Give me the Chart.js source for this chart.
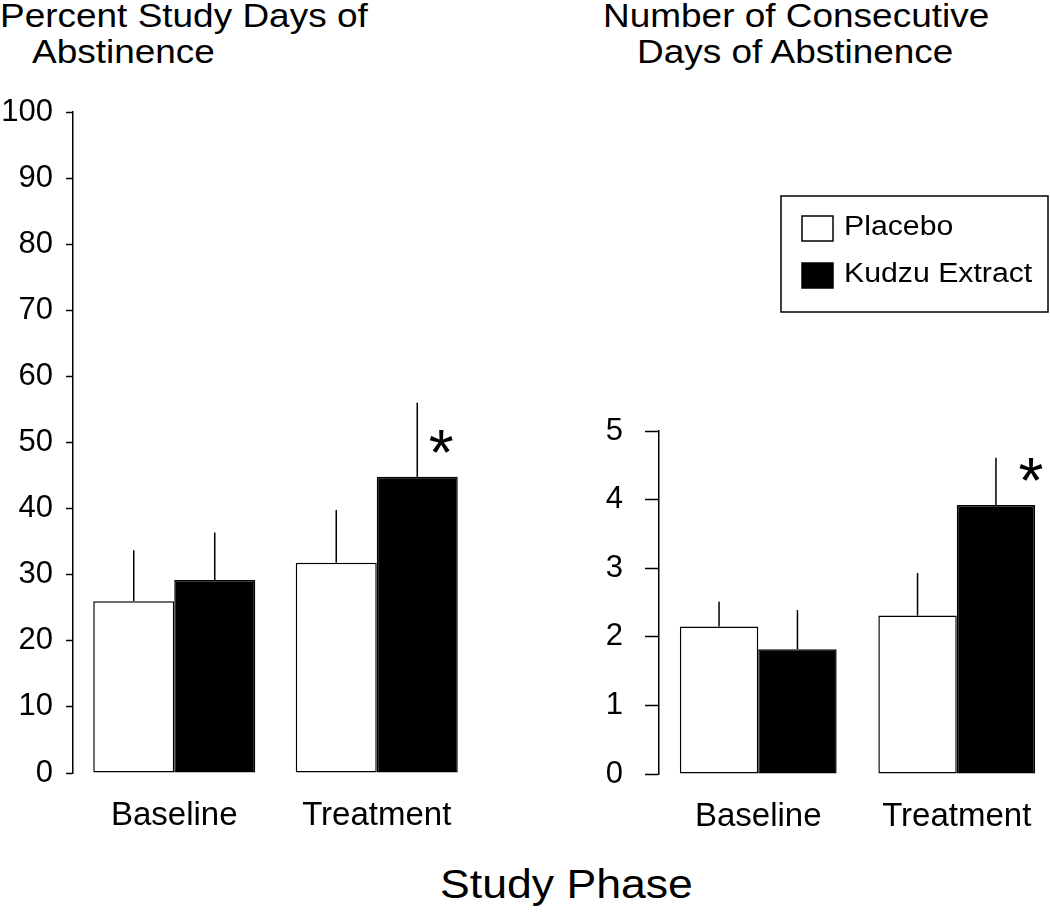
<!DOCTYPE html>
<html>
<head>
<meta charset="utf-8">
<script src="https://cdn.jsdelivr.net/npm/chart.js@4.4.1/dist/chart.umd.min.js"></script>
<style>
    html, body {
        margin: 0;
        padding: 0;
        background: #fff;
        width: 1050px;
        height: 916px;
        overflow: hidden;
        position: relative;
    }
    canvas {
        position: absolute;
        top: 0;
    }
    .txt {
        position: absolute;
        white-space: pre;
        color: #000;
        font-family: 'Liberation Sans', Arial, sans-serif;
        transform-origin: 0 0;
    }
    .title {
        font-size: 33px;
        line-height: 36px;
        transform: scaleX(1.12);
    }
</style>
</head>
<body>
<div class="txt title" style="left:0px;top:-2px">Percent Study Days of</div>
<div class="txt title" style="left:32px;top:34px">Abstinence</div>
<div class="txt title" style="left:603px;top:-2px">Number of Consecutive</div>
<div class="txt title" style="left:637px;top:34px">Days of Abstinence</div>
<div class="txt" style="left:440px;top:864px;font-size:40px;line-height:40px;transform:scaleX(1.115)">Study Phase</div>

<canvas id="pctChart" width="520" height="916" style="left:0px"></canvas>
<canvas id="daysChart" width="500" height="916" style="left:560px"></canvas>

<script>
document.addEventListener('DOMContentLoaded', function () {
    var phases = ['Baseline', 'Treatment'];
    var seriesNames = ['Placebo', 'Kudzu Extract'];

    // percent study days of abstinence (mean, upper SEM)
    var pctPlacebo = [26.0, 31.8];
    var pctKudzu = [29.2, 44.8];
    var pctPlaceboErr = [7.7, 8.0];
    var pctKudzuErr = [7.2, 11.2];

    // consecutive days of abstinence
    var daysPlacebo = [2.15, 2.31];
    var daysKudzu = [1.82, 3.92];
    var daysPlaceboErr = [0.36, 0.62];
    var daysKudzuErr = [0.57, 0.69];

    // significance marks on the kudzu bars
    var kudzuSig = [false, true];

    var fontFamily = "'Liberation Sans', Arial, sans-serif";

    // error bars (upper only) + asterisk
    var errorBarPlugin = {
        id: 'errorBars',
        afterDatasetsDraw: function (chart, args, opts) {
            var ctx = chart.ctx;
            var yScale = chart.scales.y;
            chart.data.datasets.forEach(function (ds, i) {
                var meta = chart.getDatasetMeta(i);
                meta.data.forEach(function (bar, j) {
                    var top = yScale.getPixelForValue(ds.data[j] + ds.errors[j]);
                    ctx.save();
                    ctx.strokeStyle = '#000';
                    ctx.lineWidth = 1.5;
                    ctx.beginPath();
                    ctx.moveTo(bar.x, bar.y);
                    ctx.lineTo(bar.x, top);
                    ctx.stroke();
                    if (ds.sig && ds.sig[j]) {
                        ctx.fillStyle = '#000';
                        ctx.font = opts.starSize + 'px ' + fontFamily;
                        ctx.textAlign = 'center';
                        ctx.textBaseline = 'alphabetic';
                        ctx.fillText('*', bar.x + opts.starDx, bar.y + opts.starDy);
                    }
                    ctx.restore();
                });
            });
        },
    };

    // boxed legend
    var boxLegendPlugin = {
        id: 'boxLegend',
        afterDraw: function (chart, args, opts) {
            if (!opts.show) return;
            var ctx = chart.ctx;
            ctx.save();
            ctx.strokeStyle = '#000';
            ctx.lineWidth = 1.5;
            ctx.strokeRect(opts.x, opts.y, opts.width, opts.height);
            chart.data.datasets.forEach(function (ds, i) {
                var base = opts.y + opts.firstBaseline + i * opts.rowGap;
                ctx.fillStyle = ds.backgroundColor;
                ctx.fillRect(opts.x + 21, base - 19, 31, 25);
                ctx.strokeRect(opts.x + 21, base - 19, 31, 25);
                ctx.save();
                ctx.translate(opts.x + 63, base);
                ctx.scale(1.12, 1);
                ctx.fillStyle = '#000';
                ctx.font = '27px ' + fontFamily;
                ctx.textAlign = 'left';
                ctx.textBaseline = 'alphabetic';
                ctx.fillText(ds.label, 0, 0);
                ctx.restore();
            });
            ctx.restore();
        },
    };

    function createDatasets(placebo, kudzu, placeboErr, kudzuErr, catPct) {
        return [
            {
                label: seriesNames[0],
                data: placebo,
                errors: placeboErr,
                backgroundColor: '#ffffff',
                borderColor: '#000000',
                borderWidth: 1.5,
                borderSkipped: false,
                barPercentage: 1.0,
                categoryPercentage: catPct,
            },
            {
                label: seriesNames[1],
                data: kudzu,
                errors: kudzuErr,
                sig: kudzuSig,
                backgroundColor: '#000000',
                borderColor: '#000000',
                borderWidth: 1.5,
                borderSkipped: false,
                barPercentage: 1.0,
                categoryPercentage: catPct,
            },
        ];
    }

    function createChart(canvasId, datasets, cfg) {
        return new Chart(document.getElementById(canvasId).getContext('2d'), {
            type: 'bar',
            data: {
                labels: phases,
                datasets: datasets,
            },
            plugins: [errorBarPlugin, boxLegendPlugin],
            options: {
                responsive: false,
                animation: false,
                layout: {
                    padding: { left: 0, top: cfg.top, right: cfg.right, bottom: 0 },
                },
                scales: {
                    x: {
                        grid: { display: false, drawTicks: false },
                        border: { display: false },
                        ticks: {
                            color: '#000',
                            padding: cfg.xPad,
                            font: { family: fontFamily, size: 33 },
                        },
                        afterFit: function (scale) {
                            scale.height = cfg.xHeight;
                        },
                    },
                    y: {
                        min: 0,
                        max: cfg.max,
                        grid: {
                            drawOnChartArea: false,
                            drawTicks: true,
                            tickLength: cfg.tickLen,
                            tickColor: '#000',
                            tickWidth: 1.5,
                            color: '#000',
                        },
                        border: { display: true, color: '#000', width: 1.5 },
                        ticks: {
                            stepSize: cfg.step,
                            color: '#000',
                            padding: cfg.yPad,
                            font: { family: fontFamily, size: 31 },
                        },
                        afterFit: function (scale) {
                            scale.width = cfg.yWidth;
                        },
                    },
                },
                plugins: {
                    legend: { display: false },
                    tooltip: { enabled: false },
                    errorBars: { starSize: 64, starDx: cfg.starDx, starDy: -2 },
                    boxLegend: cfg.legend,
                },
            },
        });
    }

    createChart(
        'pctChart',
        createDatasets(pctPlacebo, pctKudzu, pctPlaceboErr, pctKudzuErr, 0.8),
        {
            top: 112, right: 42, xHeight: 143, yWidth: 73,
            max: 100, step: 10, tickLen: 7, yPad: 13, xPad: 23,
            starDx: 24,
            legend: { show: false },
        },
    );

    createChart(
        'daysChart',
        createDatasets(daysPlacebo, daysKudzu, daysPlaceboErr, daysKudzuErr, 0.79),
        {
            top: 431, right: 4, xHeight: 142, yWidth: 99,
            max: 5, step: 1, tickLen: 14, yPad: 22, xPad: 23,
            starDx: 35,
            legend: {
                show: true, x: 221, y: 196, width: 267, height: 116,
                firstBaseline: 39, rowGap: 47,
            },
        },
    );
});
</script>
</body>
</html>
